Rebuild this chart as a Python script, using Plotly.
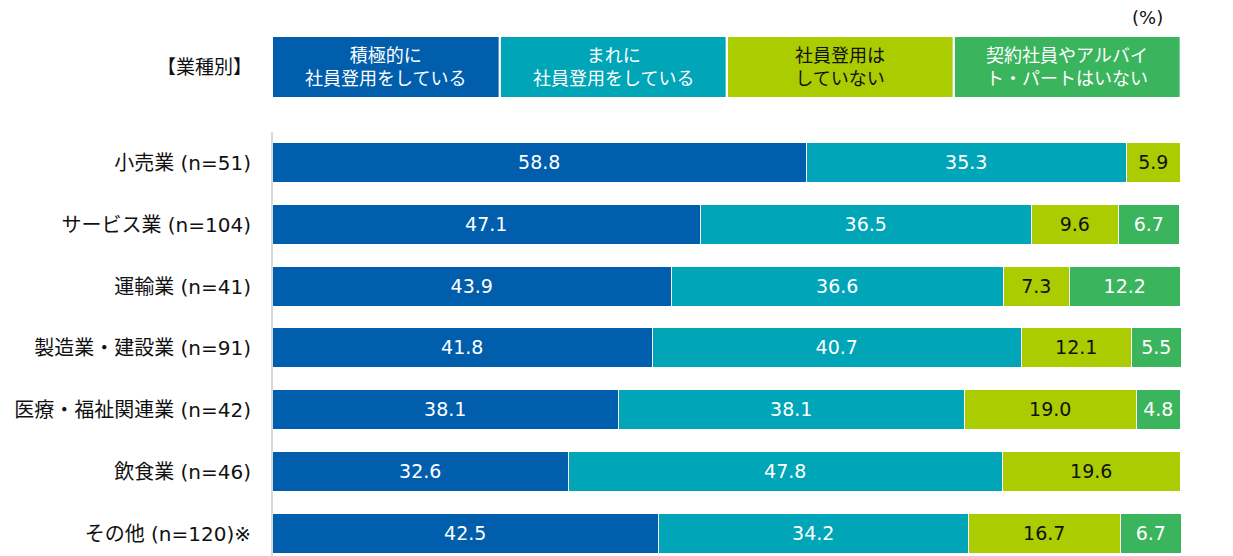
import plotly.graph_objects as go

categories = ["小売業 (n=51)", "サービス業 (n=104)", "運輸業 (n=41)", "製造業・建設業 (n=91)",
              "医療・福祉関連業 (n=42)", "飲食業 (n=46)", "その他 (n=120)※"]
series_names = ["積極的に<br>社員登用をしている", "まれに<br>社員登用をしている",
                "社員登用は<br>していない", "契約社員やアルバイ<br>ト・パートはいない"]
s1 = [58.8, 47.1, 43.9, 41.8, 38.1, 32.6, 42.5]
s2 = [35.3, 36.5, 36.6, 40.7, 38.1, 47.8, 34.2]
s3 = [5.9, 9.6, 7.3, 12.1, 19.0, 19.6, 16.7]
s4 = [None, 6.7, 12.2, 5.5, 4.8, None, 6.7]
colors = ["#005EAD", "#00A5B8", "#AACC00", "#3BB45E"]
text_colors = ["white", "white", "#111111", "white"]

FONT = "'DejaVu Sans', 'Noto Sans CJK JP', sans-serif"

fig = go.Figure()
for name, vals, c, tc in zip(series_names, [s1, s2, s3, s4], colors, text_colors):
    fig.add_trace(go.Bar(
        y=categories, x=vals, orientation="h", name=name,
        marker=dict(color=c, line=dict(color="white", width=1.5)),
        text=["" if v is None else f"{v:.1f}" for v in vals],
        textposition="inside", insidetextanchor="middle", textangle=0,
        textfont=dict(color=tc, size=19, family=FONT),
        width=0.647, showlegend=False, hoverinfo="x+y",
    ))

# header boxes (legend)
for i, (name, c, tc) in enumerate(zip(series_names, colors, text_colors)):
    x0 = i * 25 - 0.1 + (0.2 if i > 0 else 0)
    x1 = (i + 1) * 25 - 0.15
    fig.add_shape(type="rect", xref="x", yref="paper", x0=x0, x1=x1,
                  y0=1.0825, y1=1.224, fillcolor=c, line=dict(width=0), layer="below")
    fig.add_annotation(xref="x", yref="paper", x=(x0 + x1) / 2, y=1.153,
                       xanchor="center", yanchor="middle",
                       text=name, showarrow=False,
                       font=dict(color=tc, size=18, family=FONT))

fig.add_annotation(xref="paper", yref="paper", x=-0.0749, y=1.153, text="【業種別】",
                   xanchor="center", yanchor="middle",
                   showarrow=False, font=dict(color="#111111", size=19, family=FONT))
fig.add_annotation(xref="x", yref="paper", x=96.3, y=1.269, text="(%)",
                   xanchor="center", yanchor="middle",
                   showarrow=False, font=dict(color="#111111", size=18, family=FONT))

fig.update_layout(
    barmode="stack", width=1225, height=548,
    margin=dict(l=265, r=52, t=124, b=0, autoexpand=False),
    plot_bgcolor="white", paper_bgcolor="white", bargap=0,
    uniformtext=dict(minsize=19, mode="show"),
    font=dict(family=FONT),
)
fig.update_xaxes(range=[0, 100], visible=False, fixedrange=True, automargin=False)
fig.update_yaxes(range=[6.356, -0.501], showline=True, linecolor="#D9D9D9", linewidth=2,
                 showgrid=False, ticks="", ticklabelstandoff=16, automargin=False,
                 tickfont=dict(size=20, color="#111111", family=FONT))

fig.write_html("out.html")
